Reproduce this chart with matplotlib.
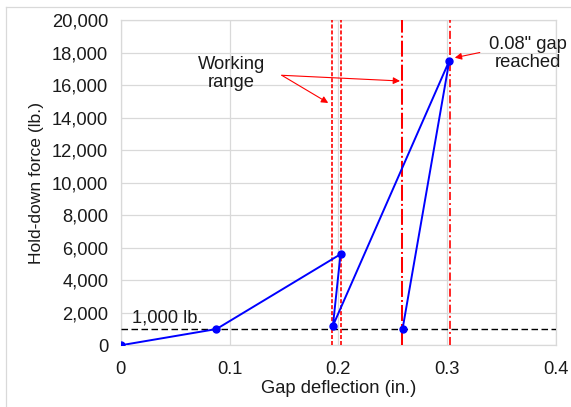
import matplotlib
matplotlib.use("Agg")
import matplotlib.pyplot as plt
from matplotlib.ticker import FuncFormatter, MultipleLocator
from matplotlib.lines import Line2D

plt.rcParams['font.family'] = ['Liberation Sans', 'DejaVu Sans']
plt.rcParams['lines.scale_dashes'] = False

# Data
gap = [0.0, 0.088, 0.202, 0.195, 0.302, 0.259]
force = [0, 1000, 5600, 1200, 17500, 1000]
dashed_lines = [0.1945, 0.2022]
dashdot_thick = [0.2585]
dashdot_thin = [0.3028]
threshold = 1000
x_ticks = [0.0, 0.1, 0.2, 0.3, 0.4]
x_tick_labels = ['0', '0.1', '0.2', '0.3', '0.4']

FS = 13.2

fig = plt.figure(figsize=(5.71, 4.07), dpi=100)
ax = fig.add_axes([0.2114, 0.1516, 0.7623, 0.7993])

ax.set_xlim(0, 0.4)
ax.set_ylim(0, 20000)
ax.yaxis.set_major_locator(MultipleLocator(2000))
ax.yaxis.set_major_formatter(FuncFormatter(lambda v, p: f"{int(v):,}"))
ax.set_xticks(x_ticks)
ax.set_xticklabels(x_tick_labels)
ax.grid(True, color='#d9d9d9', lw=0.9)
ax.set_axisbelow(True)
for s in ax.spines.values():
    s.set_color('#d9d9d9')
    s.set_linewidth(0.9)
ax.tick_params(length=0, labelsize=FS, colors='#1a1a1a')
ax.tick_params(axis='y', pad=9)
ax.tick_params(axis='x', pad=11)

ax.axhline(threshold, color='black', lw=1.0, ls=(0, (4.7, 2.5)), zorder=3)
for xv in dashed_lines:
    ax.axvline(xv, color='#ff0000', lw=1.2, ls=(0, (2.9, 1.4)), zorder=3)
for xv in dashdot_thick:
    ax.axvline(xv, color='#ff0000', lw=1.45, ls=(0, (11.5, 2.2, 1.4, 2.2)), zorder=3)
for xv in dashdot_thin:
    ax.axvline(xv, color='#ff0000', lw=1.2, ls=(0, (5.8, 2.2, 1.4, 2.2)), zorder=3)

ax.plot(gap, force, color='#0000ff', lw=1.4, marker='o', ms=5, zorder=4)

ax.text(0.0101, 1400, '1,000 lb.', fontsize=FS, ha='left', va='baseline', color='#1a1a1a')

ax.text(0.102, 16700, 'Working\nrange', fontsize=FS, ha='center', va='center',
        linespacing=1.1, color='#1a1a1a')
arrow_kw = dict(arrowstyle='-|>', color='#ff0000', lw=0.8, mutation_scale=10, shrinkA=0, shrinkB=0)
ax.annotate('', xy=(0.1907, 14900), xytext=(0.148, 16600), arrowprops=arrow_kw)
ax.annotate('', xy=(0.2567, 16250), xytext=(0.148, 16600), arrowprops=arrow_kw)

ax.text(0.374, 17950, '0.08" gap\nreached', fontsize=FS, ha='center', va='center',
        linespacing=1.1, clip_on=False, color='#1a1a1a')
ax.annotate('', xy=(0.307, 17680), xytext=(0.330, 18000), arrowprops=arrow_kw)

ax.set_xlabel('Gap deflection (in.)', fontsize=FS, labelpad=2, color='#1a1a1a')
ax.set_ylabel('Hold-down force (lb.)', fontsize=12.6, labelpad=6, color='#1a1a1a')

# Outer chart border (top and left visible)
fig.add_artist(Line2D([6/571, 1], [1 - 7/407, 1 - 7/407], transform=fig.transFigure, color='#d9d9d9', lw=0.9))
fig.add_artist(Line2D([6/571, 6/571], [0, 1 - 7/407], transform=fig.transFigure, color='#d9d9d9', lw=0.9))

fig.savefig('out.png', dpi=100)
